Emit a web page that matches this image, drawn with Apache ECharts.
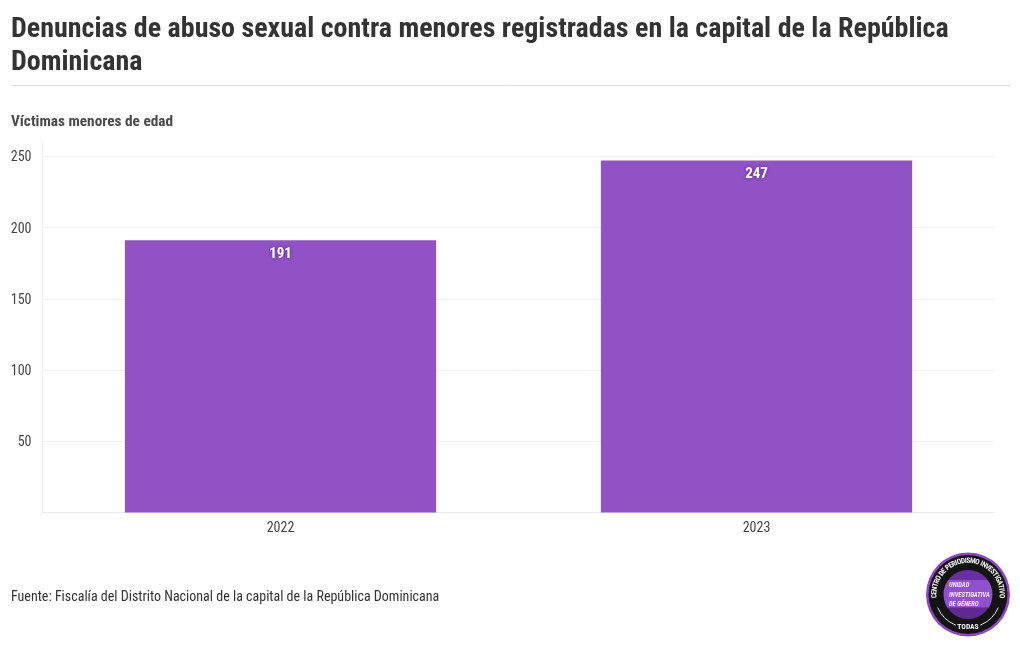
<!DOCTYPE html>
<html><head><meta charset="utf-8">
<script src="https://cdn.jsdelivr.net/npm/echarts@6/dist/echarts.min.js"></script>
<style>html,body{margin:0;padding:0;background:#fff}#c{width:1020px;height:650px}</style></head>
<body><div id="c"></div>
<script>
const categories = ['2022', '2023'];
const victims = [191, 247];
const titleLines = ['Denuncias de abuso sexual contra menores registradas en la capital de la República', 'Dominicana'];
const subtitle = 'Víctimas menores de edad';
const source = 'Fuente: Fiscalía del Distrito Nacional de la capital de la República Dominicana';
const FONT = '"Roboto Condensed", Roboto, sans-serif';
const chart = echarts.init(document.getElementById('c'), null, {renderer: 'canvas'});

function arcText(str, cx, cy, r, startDeg, endDeg, font) {
  const ctx = document.createElement('canvas').getContext('2d');
  ctx.font = font;
  const widths = [...str].map(ch => ctx.measureText(ch).width);
  const total = widths.reduce((s, w) => s + w, 0);
  const out = [];
  let used = 0;
  [...str].forEach((ch, i) => {
    const deg = startDeg + (endDeg - startDeg) * (used + widths[i] / 2) / total, a = deg * Math.PI / 180;
    used += widths[i];
    out.push({type: 'text', x: cx + r * Math.sin(a), y: cy - r * Math.cos(a),
      rotation: -a, originX: 0, originY: 0,
      style: {text: ch, fill: '#f2f2f2', font, align: 'center', verticalAlign: 'middle'}});
  });
  return out;
}
const lx = 968, ly = 594.5;
const logo = [
  {type: 'circle', shape: {cx: lx, cy: ly, r: 42}, style: {fill: '#8e45c8'}},
  {type: 'circle', shape: {cx: lx, cy: ly, r: 39.5}, style: {fill: '#141414'}},
  {type: 'circle', shape: {cx: lx, cy: ly, r: 24.5}, style: {fill: new echarts.graphic.LinearGradient(0, 0, 0, 1, [
    {offset: 0, color: '#6a2fa0'}, {offset: .2, color: '#6a2fa0'}, {offset: .21, color: '#9150cc'},
    {offset: .76, color: '#9150cc'}, {offset: .77, color: '#5f2a90'}, {offset: 1, color: '#5f2a90'}])}},
  {type: 'arc', shape: {cx: lx, cy: ly, r: 33, startAngle: Math.PI * .13, endAngle: Math.PI * .38, clockwise: true}, style: {stroke: '#ddd', lineWidth: 1, fill: 'none'}},
  {type: 'arc', shape: {cx: lx, cy: ly, r: 33, startAngle: Math.PI * .62, endAngle: Math.PI * .87, clockwise: true}, style: {stroke: '#ddd', lineWidth: 1, fill: 'none'}},
  {type: 'text', x: 949, y: 581, style: {text: 'UNIDAD\nINVESTIGATIVA\nDE GÉNERO', fill: '#f3eafb', font: 'italic bold 6.6px ' + FONT, lineHeight: 9.5}},
  ...arcText('CENTRO DE PERIODISMO INVESTIGATIVO', lx, ly, 33.5, -96, 96, 'bold 7.4px ' + FONT),
  {type: 'text', x: lx, y: 627, style: {text: 'TODAS', fill: '#f2f2f2', font: 'bold 7.6px ' + FONT, align: 'center', verticalAlign: 'middle'}}
];

chart.setOption({
  animation: false,
  backgroundColor: '#fff',
  grid: {left: 42.5, right: 25.5, top: 142, bottom: 137.5, containLabel: false},
  xAxis: {type: 'category', data: categories,
    axisLine: {lineStyle: {color: '#e9e9e9'}}, axisTick: {show: false},
    axisLabel: {color: '#444', fontFamily: FONT, fontSize: 14, margin: 9},
    splitLine: {show: false}},
  yAxis: {type: 'value', min: 0, max: 260, interval: 50,
    axisLine: {show: true, lineStyle: {color: '#efefef'}}, axisTick: {show: false},
    axisLabel: {margin: 11, showMaxLabel: false,
      formatter: v => (v === 0 ? '' : '{t|' + v + '}'),
      rich: {t: {color: '#444', fontFamily: FONT, fontSize: 14, padding: [3, 0, 0, 0]}}},
    splitLine: {showMaxLine: false, lineStyle: {color: '#efefef'}}},
  series: [{type: 'bar', data: victims, barWidth: '65.4%',
    itemStyle: {color: '#9152c6'},
    label: {show: true, position: 'insideTop', distance: 6, color: '#fff', fontFamily: FONT,
      fontWeight: 'bold', fontSize: 15, textShadowColor: '#4f2478', textShadowBlur: 4}}],
  graphic: [
    {type: 'text', x: 11, y: 13, style: {text: titleLines.join('\n'), fill: '#333', font: 'bold 28px ' + FONT, lineHeight: 33}},
    {type: 'line', shape: {x1: 11, y1: 85.5, x2: 1010, y2: 85.5}, style: {stroke: '#dcdcdc', lineWidth: 1}},
    {type: 'text', x: 11, y: 115, style: {text: subtitle, fill: '#4a4a4a', font: 'bold 15.3px ' + FONT}},
    {type: 'text', x: 11, y: 590, style: {text: source, fill: '#333', font: '14px ' + FONT}},
    ...logo
  ]
});
</script></body></html>
